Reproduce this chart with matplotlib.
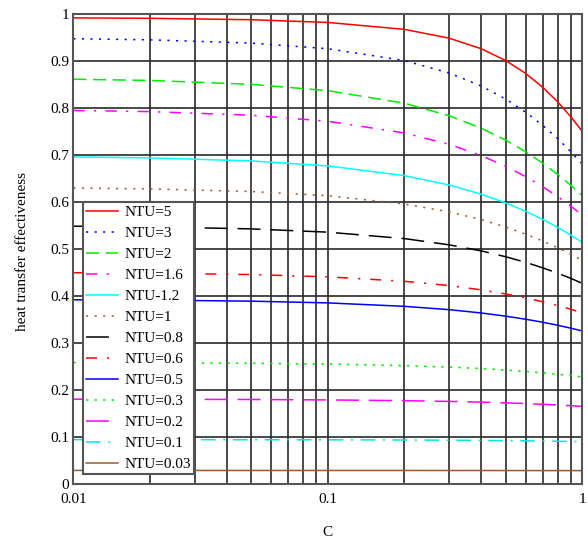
import matplotlib
matplotlib.use("Agg")
import matplotlib.pyplot as plt
from matplotlib.ticker import FixedLocator, NullFormatter

# capacity ratio C (x axis, log scale)
c_ratio = [0.01, 0.02, 0.05, 0.1, 0.2, 0.3, 0.4, 0.5, 0.6, 0.7, 0.8, 0.9, 1.0]

# heat transfer effectiveness, one list per NTU curve
eff_ntu_5 = [0.9924, 0.9915, 0.9885, 0.9827, 0.9680, 0.9492, 0.9270, 0.9017, 0.8740, 0.8445, 0.8138, 0.7824, 0.7509]
eff_ntu_3 = [0.9480, 0.9457, 0.9388, 0.9268, 0.9016, 0.8751, 0.8477, 0.8197, 0.7915, 0.7634, 0.7355, 0.7081, 0.6813]
eff_ntu_2 = [0.8619, 0.8593, 0.8511, 0.8376, 0.8108, 0.7842, 0.7580, 0.7324, 0.7074, 0.6830, 0.6593, 0.6364, 0.6142]
eff_ntu_1_6 = [0.7955, 0.7930, 0.7853, 0.7725, 0.7476, 0.7233, 0.6996, 0.6767, 0.6545, 0.6330, 0.6122, 0.5921, 0.5728]
eff_ntu_1_2 = [0.6966, 0.6945, 0.6881, 0.6775, 0.6568, 0.6368, 0.6175, 0.5989, 0.5809, 0.5635, 0.5467, 0.5305, 0.5149]
eff_ntu_1 = [0.6303, 0.6285, 0.6230, 0.6140, 0.5965, 0.5796, 0.5633, 0.5475, 0.5322, 0.5175, 0.5033, 0.4895, 0.4762]
eff_ntu_0_8 = [0.5492, 0.5478, 0.5435, 0.5365, 0.5228, 0.5095, 0.4967, 0.4842, 0.4722, 0.4605, 0.4492, 0.4383, 0.4277]
eff_ntu_0_6 = [0.4502, 0.4492, 0.4463, 0.4414, 0.4320, 0.4228, 0.4138, 0.4051, 0.3966, 0.3884, 0.3804, 0.3726, 0.3650]
eff_ntu_0_5 = [0.3927, 0.3920, 0.3897, 0.3860, 0.3787, 0.3716, 0.3646, 0.3578, 0.3512, 0.3448, 0.3385, 0.3323, 0.3263]
eff_ntu_0_3 = [0.2589, 0.2585, 0.2575, 0.2559, 0.2526, 0.2494, 0.2463, 0.2432, 0.2402, 0.2372, 0.2342, 0.2314, 0.2285]
eff_ntu_0_2 = [0.1811, 0.1809, 0.1805, 0.1796, 0.1780, 0.1764, 0.1749, 0.1733, 0.1718, 0.1703, 0.1688, 0.1673, 0.1658]
eff_ntu_0_1 = [0.0951, 0.0951, 0.0949, 0.0947, 0.0943, 0.0938, 0.0934, 0.0929, 0.0925, 0.0921, 0.0916, 0.0912, 0.0908]
eff_ntu_0_03 = [0.0296, 0.0295, 0.0295, 0.0295, 0.0295, 0.0294, 0.0294, 0.0293, 0.0293, 0.0292, 0.0292, 0.0292, 0.0291]

labels = ["NTU=5", "NTU=3", "NTU=2", "NTU=1.6", "NTU-1.2", "NTU=1", "NTU=0.8",
          "NTU=0.6", "NTU=0.5", "NTU=0.3", "NTU=0.2", "NTU=0.1", "NTU=0.03"]
series = [eff_ntu_5, eff_ntu_3, eff_ntu_2, eff_ntu_1_6, eff_ntu_1_2, eff_ntu_1, eff_ntu_0_8,
          eff_ntu_0_6, eff_ntu_0_5, eff_ntu_0_3, eff_ntu_0_2, eff_ntu_0_1, eff_ntu_0_03]

x_ticks = [0.01, 0.1, 1]
x_tick_labels = ["0.01", "0.1", "1"]
y_ticks = [0, 0.1, 0.2, 0.3, 0.4, 0.5, 0.6, 0.7, 0.8, 0.9, 1]
y_tick_labels = ["0", "0.1", "0.2", "0.3", "0.4", "0.5", "0.6", "0.7", "0.8", "0.9", "1"]

# (colour, dash pattern in points; None = solid)
styles = [
    ("#ff0000", None),
    ("#0000ff", (1.4, 4.2)),
    ("#00ee00", (8.6, 4.3)),
    ("#ff00ff", (7.5, 6.0, 1.5, 6.0)),
    ("#00ffff", None),
    ("#a0602d", (1.4, 4.2)),
    ("#000000", (15.0, 6.5)),
    ("#ff0000", (7.2, 6.5, 1.4, 6.5)),
    ("#0000ff", None),
    ("#00ee00", (1.6, 4.0)),
    ("#ff00ff", (15.0, 6.5)),
    ("#00e5e5", (9.5, 5.0, 1.4, 5.0)),
    ("#9c5a28", None),
]

plt.rcParams['font.family'] = ['Liberation Serif', 'DejaVu Serif']

fig = plt.figure(figsize=(5.88, 5.40), dpi=100)
ax = fig.add_axes([0.1247, 0.1031, 0.8656, 0.8704])

for vals, lab, (col, dash) in zip(series, labels, styles):
    line, = ax.plot(c_ratio, vals, color=col, lw=1.1, label=lab)
    if dash is not None:
        line.set_dashes(dash)

ax.set_xscale('log')
ax.set_xlim(0.01, 1)
ax.set_ylim(0, 1)

ax.xaxis.set_major_locator(FixedLocator(x_ticks))
ax.xaxis.set_minor_locator(FixedLocator([m * d for d in (0.01, 0.1) for m in range(2, 10)]))
ax.xaxis.set_minor_formatter(NullFormatter())
ax.set_xticklabels(x_tick_labels)
ax.set_yticks(y_ticks)
ax.set_yticklabels(y_tick_labels)
ax.tick_params(which='both', length=0, labelsize=11)
ax.tick_params(axis='x', pad=6)
ax.tick_params(axis='y', pad=3)

ax.set_axisbelow(True)
ax.grid(which='major', axis='both', color='#2a2a2a', lw=1.2)
ax.grid(which='minor', axis='x', color='#2a2a2a', lw=1.2)
for sp in ax.spines.values():
    sp.set_color('#555555')
    sp.set_linewidth(1.5)

ax.set_xlabel("C", fontsize=11)
ax.set_ylabel("heat transfer effectiveness", fontsize=11)
ax.xaxis.set_label_coords(0.5, -0.088)
ax.yaxis.set_label_coords(-0.088, 0.495)

leg = ax.legend(loc='upper left', bbox_to_anchor=(0.0185, 0.6), borderaxespad=0,
                fancybox=False, framealpha=1, edgecolor='#555555', fontsize=11,
                handlelength=2.1, handletextpad=0.45, labelspacing=0.48, borderpad=0.2)
leg.get_frame().set_linewidth(1.5)

fig.savefig("out.png", dpi=100)
